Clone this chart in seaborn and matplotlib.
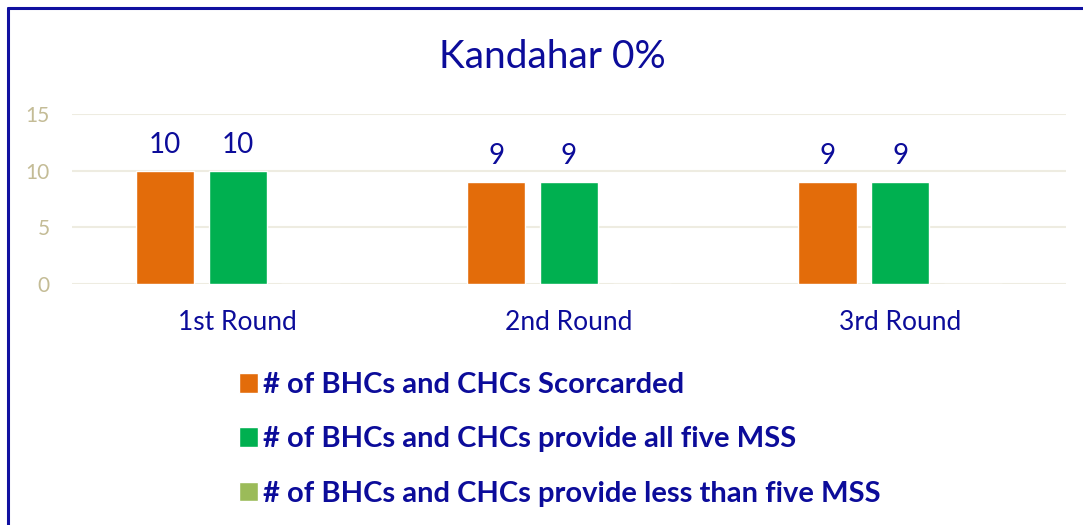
import matplotlib
matplotlib.use("Agg")
import matplotlib.pyplot as plt
import seaborn as sns
import pandas as pd
from matplotlib.lines import Line2D

rounds = ["1st Round", "2nd Round", "3rd Round"]
series_names = [
    "# of BHCs and CHCs Scorcarded",
    "# of BHCs and CHCs provide all five MSS",
    "# of BHCs and CHCs provide less than five MSS",
]
scorecarded = [10, 9, 9]
all_five = [10, 9, 9]
less_than_five = [0, 0, 0]
title = "Kandahar 0%"
y_ticks = [0, 5, 10, 15]

colors = ["#E36C0A", "#00B050", "#9BBB59"]
text_blue = "#0C0C9A"

rows = []
for name, vals in zip(series_names, [scorecarded, all_five, less_than_five]):
    for r, v in zip(rounds, vals):
        rows.append({"Round": r, "Series": name, "Value": v})
df = pd.DataFrame(rows)

sns.set_theme(style="white")
plt.rcParams["font.family"] = ["Lato", "DejaVu Sans"]

fig = plt.figure(figsize=(10.83, 5.25), dpi=100)
ax = fig.add_axes([0.0665, 0.459, 0.9178, 0.324])

sns.barplot(data=df, x="Round", y="Value", hue="Series", order=rounds,
            hue_order=series_names, palette=colors, width=0.66, gap=0.2,
            saturation=1, ax=ax, legend=True)

ax.set_ylim(0, 15)
ax.set_yticks(y_ticks)
ax.set_xlim(-0.5, 2.5)
ax.grid(axis="y", color="#EEECE1", linewidth=1.5)
ax.set_axisbelow(True)
for s in ax.spines.values():
    s.set_visible(False)
ax.set_xlabel("")
ax.set_ylabel("")
ax.tick_params(axis="y", colors="#C4BC96", labelsize=15, pad=16, length=0)
ax.tick_params(axis="x", colors=text_blue, labelsize=19, pad=19, length=0)

for cont in ax.containers:
    labels = [f"{b.get_height():g}" if b.get_height() > 0 else "" for b in cont]
    ax.bar_label(cont, labels=labels, padding=9, fontsize=20, color=text_blue)

handles, labels = ax.get_legend_handles_labels()
ax.get_legend().remove()
leg = fig.legend(handles, labels, loc="upper left", bbox_to_anchor=(0.2207, 0.2914),
                 frameon=False, handlelength=0.66, handleheight=0.66,
                 handletextpad=0.17, labelspacing=0.97, borderpad=0,
                 borderaxespad=0, prop={"weight": "bold", "size": 21})
for t in leg.get_texts():
    t.set_color(text_blue)

fig.text(0.51, 1 - 57 / 525, title, ha="center", va="center",
         fontsize=28, color=text_blue)

# frame border
bx = 8 / 1083
by = 1 - 7.5 / 525
fig.add_artist(Line2D([bx, 1.0], [by, by], transform=fig.transFigure,
                      color="#1010A0", linewidth=2.2))
fig.add_artist(Line2D([bx, bx], [0, by], transform=fig.transFigure,
                      color="#1010A0", linewidth=2.2))

fig.savefig("out.png", dpi=100, facecolor="white")
